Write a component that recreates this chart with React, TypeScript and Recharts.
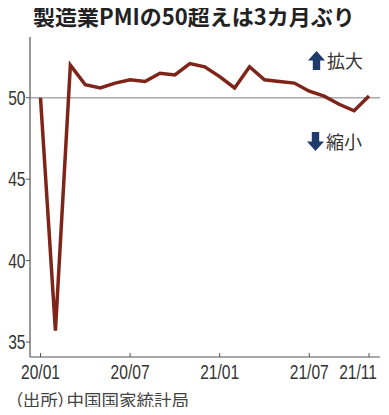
import { LineChart, Line, XAxis, YAxis, ReferenceLine } from "recharts";

// 中国の製造業PMI 2020/01〜2021/11
const months = [
  "20/01", "20/02", "20/03", "20/04", "20/05", "20/06", "20/07", "20/08",
  "20/09", "20/10", "20/11", "20/12", "21/01", "21/02", "21/03", "21/04",
  "21/05", "21/06", "21/07", "21/08", "21/09", "21/10", "21/11",
];
const pmi = [
  50.0, 35.7, 52.0, 50.8, 50.6, 50.9, 51.1, 51.0, 51.5, 51.4, 52.1, 51.9,
  51.3, 50.6, 51.9, 51.1, 51.0, 50.9, 50.4, 50.1, 49.6, 49.2, 50.1,
];
const xTicks = [0, 6, 12, 18, 22];
const yTicks = [35, 40, 45, 50];

const data = months.map((m, i) => ({ i, m, v: pmi[i] }));

const tickFont = "'Liberation Sans', Arial, sans-serif";
const jpFont = "'Noto Sans CJK JP', sans-serif";
const axisColor = "#555";
const lineColor = "#7e2419";
const arrowColor = "#1d3c6c";

// condensed look: squeeze a regular sans horizontally
function NarrowText({ x, y, anchor, children }: any) {
  return (
    <text
      transform={`translate(${x},${y}) scale(0.78,1)`}
      textAnchor={anchor}
      fontFamily={tickFont}
      fontSize={20}
      fill="#333"
    >
      {children}
    </text>
  );
}

function XTick({ x, y, payload }: any) {
  const last = payload.value === months.length - 1;
  return (
    <g>
      <line x1={x} x2={x} y1={y} y2={y - 4} stroke={axisColor} strokeWidth={1} />
      {/* last label is pulled left so it stays inside the frame */}
      <NarrowText x={last ? x + 8 : x} y={y + 21.5} anchor={last ? "end" : "middle"}>
        {months[payload.value]}
      </NarrowText>
    </g>
  );
}

function YTick({ x, y, payload }: any) {
  return (
    <g>
      <line x1={x} x2={x + 4} y1={y} y2={y} stroke={axisColor} strokeWidth={1} />
      <NarrowText x={x - 0.5} y={y + 7} anchor="end">
        {payload.value}
      </NarrowText>
    </g>
  );
}

function Arrow({ up }: { up: boolean }) {
  return (
    <svg width={17} height={19} style={{ display: "block" }}>
      <g transform={up ? undefined : "rotate(180 8.5 9.5)"}>
        <polygon points="0,9.5 8.5,0 17,9.5" fill={arrowColor} />
        <rect x={4.8} y={9} width={7.4} height={10} fill={arrowColor} />
      </g>
    </svg>
  );
}

export default function App() {
  return (
    <div
      style={{
        position: "relative",
        margin: -8,
        width: 389,
        height: 415,
        background: "#fff",
        overflow: "hidden",
      }}
    >
      <div
        style={{
          position: "absolute",
          left: 33,
          top: 0,
          fontFamily: jpFont,
          fontWeight: 700,
          fontSize: 22,
          color: "#222",
          whiteSpace: "nowrap",
          lineHeight: "30px",
        }}
      >
        製造業PMIの50超えは3カ月ぶり
      </div>

      <div style={{ position: "absolute", left: 0, top: 0 }}>
        <LineChart
          width={389}
          height={415}
          data={data}
          margin={{ top: 37, right: 9, bottom: 0, left: 0 }}
        >
          <XAxis
            dataKey="i"
            type="number"
            domain={[0, 22]}
            ticks={xTicks}
            padding={{ left: 10.5, right: 11 }}
            height={58}
            tickSize={0}
            tickMargin={0}
            tickLine={false}
            axisLine={{ stroke: axisColor, strokeWidth: 1.2 }}
            tick={<XTick />}
            interval={0}
          />
          <YAxis
            type="number"
            domain={[34.08, 53.73]}
            allowDataOverflow
            ticks={yTicks}
            width={30}
            tickSize={4}
            tickMargin={0}
            tickLine={false}
            axisLine={{ stroke: axisColor, strokeWidth: 1.2 }}
            tick={<YTick />}
            interval={0}
          />
          <ReferenceLine y={50} stroke="#aaa" strokeWidth={1.5} />
          <Line
            type="linear"
            dataKey="v"
            stroke={lineColor}
            strokeWidth={3.5}
            dot={false}
            isAnimationActive={false}
          />
        </LineChart>
      </div>

      <div
        style={{
          position: "absolute",
          left: 308,
          top: 47,
          display: "flex",
          alignItems: "center",
          gap: 2,
          fontFamily: jpFont,
          fontSize: 18,
          color: "#333",
        }}
      >
        <Arrow up />
        <span>拡大</span>
      </div>
      <div
        style={{
          position: "absolute",
          left: 307,
          top: 128,
          display: "flex",
          alignItems: "center",
          gap: 2,
          fontFamily: jpFont,
          fontSize: 18,
          color: "#333",
        }}
      >
        <Arrow up={false} />
        <span>縮小</span>
      </div>

      <div
        style={{
          position: "absolute",
          left: 14,
          top: 388,
          fontFamily: jpFont,
          fontSize: 17.5,
          fontFeatureSettings: '"palt"',
          color: "#444",
          whiteSpace: "nowrap",
          lineHeight: "24px",
        }}
      >
        （出所）中国国家統計局
      </div>
    </div>
  );
}
